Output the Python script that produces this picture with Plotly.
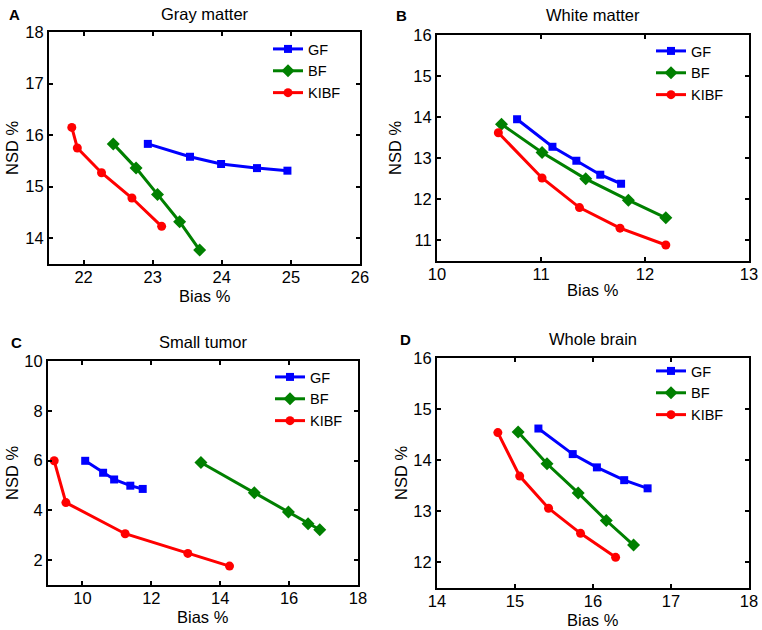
import plotly.graph_objects as go

W, H = 762, 630
FONT = "Liberation Sans, Arial, sans-serif"

methods = ["GF", "BF", "KIBF"]
colors = {"GF": "#0000ff", "BF": "#008000", "KIBF": "#ff0000"}
symbols = {"GF": "square", "BF": "diamond", "KIBF": "circle"}
msizes = {"GF": 8, "BF": 10, "KIBF": 9}

# A - Gray matter
gray_gf_bias = [22.93, 23.54, 23.99, 24.51, 24.95]
gray_gf_nsd = [15.83, 15.58, 15.44, 15.36, 15.31]
gray_bf_bias = [22.43, 22.76, 23.07, 23.39, 23.68]
gray_bf_nsd = [15.83, 15.36, 14.85, 14.32, 13.77]
gray_kibf_bias = [21.83, 21.91, 22.26, 22.70, 23.13]
gray_kibf_nsd = [16.15, 15.75, 15.27, 14.78, 14.23]

# B - White matter
white_gf_bias = [10.77, 11.11, 11.34, 11.57, 11.77]
white_gf_nsd = [13.95, 13.28, 12.94, 12.60, 12.38]
white_bf_bias = [10.62, 11.01, 11.43, 11.84, 12.20]
white_bf_nsd = [13.83, 13.14, 12.50, 11.98, 11.55]
white_kibf_bias = [10.59, 11.01, 11.37, 11.76, 12.20]
white_kibf_nsd = [13.62, 12.52, 11.80, 11.30, 10.89]

# C - Small tumor
tumor_gf_bias = [10.08, 10.60, 10.92, 11.39, 11.75]
tumor_gf_nsd = [5.99, 5.51, 5.24, 4.99, 4.86]
tumor_bf_bias = [13.44, 14.99, 15.98, 16.55, 16.89]
tumor_bf_nsd = [5.92, 4.71, 3.93, 3.46, 3.22]
tumor_kibf_bias = [9.18, 9.52, 11.24, 13.06, 14.27]
tumor_kibf_nsd = [5.99, 4.31, 3.06, 2.27, 1.76]

# D - Whole brain
brain_gf_bias = [15.30, 15.74, 16.05, 16.40, 16.70]
brain_gf_nsd = [14.62, 14.12, 13.86, 13.61, 13.45]
brain_bf_bias = [15.04, 15.41, 15.81, 16.17, 16.52]
brain_bf_nsd = [14.55, 13.93, 13.36, 12.82, 12.34]
brain_kibf_bias = [14.78, 15.06, 15.43, 15.84, 16.29]
brain_kibf_nsd = [14.54, 13.69, 13.06, 12.57, 12.10]

# box = plot area in px (left, right, top, bottom); lab = (title y, ylabel x, xlabel y, letter x)
panels = [
    dict(letter="A", title="Gray matter",
         data={"GF": (gray_gf_bias, gray_gf_nsd), "BF": (gray_bf_bias, gray_bf_nsd),
               "KIBF": (gray_kibf_bias, gray_kibf_nsd)},
         xr=[21.5, 26], yr=[13.5, 18], dx=1, dy=1,
         box=(49, 360, 32, 264), leg=(268, 33), lab=(14, 12, 296, 14)),
    dict(letter="B", title="White matter",
         data={"GF": (white_gf_bias, white_gf_nsd), "BF": (white_bf_bias, white_bf_nsd),
               "KIBF": (white_kibf_bias, white_kibf_nsd)},
         xr=[10, 13], yr=[10.5, 16], dx=1, dy=1,
         box=(437, 749, 35, 261), leg=(651, 35), lab=(15, 395, 290, 401)),
    dict(letter="C", title="Small tumor",
         data={"GF": (tumor_gf_bias, tumor_gf_nsd), "BF": (tumor_bf_bias, tumor_bf_nsd),
               "KIBF": (tumor_kibf_bias, tumor_kibf_nsd)},
         xr=[9, 18], yr=[1, 10], dx=2, dy=2,
         box=(48, 358, 361, 585), leg=(270, 361), lab=(342, 12, 617, 16)),
    dict(letter="D", title="Whole brain",
         data={"GF": (brain_gf_bias, brain_gf_nsd), "BF": (brain_bf_bias, brain_bf_nsd),
               "KIBF": (brain_kibf_bias, brain_kibf_nsd)},
         xr=[14, 18], yr=[11.5, 16], dx=1, dy=1,
         box=(437, 749, 358, 588), leg=(651, 355), lab=(339, 401, 620, 405)),
]


def px(x):
    return x / W


def py(y):
    return 1 - y / H


def note(text, x, y, size=16.5, angle=0):
    return dict(
        text=text, x=px(x), y=py(y), xref="paper", yref="paper",
        xanchor="center", yanchor="middle", showarrow=False, textangle=angle,
        font=dict(family=FONT, size=size, color="black"),
    )


fig = go.Figure()
annotations = []
layout = {}

for i, p in enumerate(panels):
    n = "" if i == 0 else str(i + 1)
    leg_name = "legend" + n
    for m in methods:
        bx, ny = p["data"][m]
        fig.add_trace(go.Scatter(
            x=bx, y=ny, mode="lines+markers", name=m,
            line=dict(color=colors[m], width=3),
            marker=dict(symbol=symbols[m], size=msizes[m], color=colors[m]),
            xaxis="x" + n, yaxis="y" + n, legend=leg_name,
        ))

    x0, x1, y0, y1 = p["box"]
    axis_common = dict(
        showline=True, linecolor="black", linewidth=2, mirror="ticks",
        ticks="inside", ticklen=4, tickwidth=1.5, tickcolor="black",
        showgrid=False, zeroline=False, automargin=False,
        tickfont=dict(family=FONT, size=16.5, color="black"),
    )
    layout["xaxis" + n] = dict(
        axis_common, domain=[px(x0), px(x1)], range=p["xr"], dtick=p["dx"],
        anchor="y" + n, tick0=0, ticklabelstandoff=-3,
    )
    layout["yaxis" + n] = dict(
        axis_common, domain=[py(y1), py(y0)], range=p["yr"], dtick=p["dy"],
        anchor="x" + n, tick0=0,
    )
    lx, ly = p["leg"]
    layout[leg_name] = dict(
        x=px(lx), y=py(ly), xanchor="left", yanchor="top",
        bgcolor="rgba(0,0,0,0)", borderwidth=0,
        font=dict(family=FONT, size=14.5, color="black"),
        tracegroupgap=0, itemsizing="trace",
    )
    ty, ylx, xly, ltx = p["lab"]
    annotations.append(note(p["title"], (x0 + x1) / 2, ty))
    annotations.append(note("<b>" + p["letter"] + "</b>", ltx, ty, size=15))
    annotations.append(note("Bias %", (x0 + x1) / 2, xly))
    annotations.append(note("NSD %", ylx, (y0 + y1) / 2, angle=-90))

fig.update_layout(
    width=W, height=H,
    margin=dict(l=0, r=0, t=0, b=0, autoexpand=False),
    paper_bgcolor="white", plot_bgcolor="white",
    showlegend=True,
    annotations=annotations,
    **layout,
)

# drop the default page margin so the 762x630 figure sits flush in the window
fig.write_html(
    "out.html",
    config={"displayModeBar": False},
    post_script="document.body.style.margin='0';",
)
